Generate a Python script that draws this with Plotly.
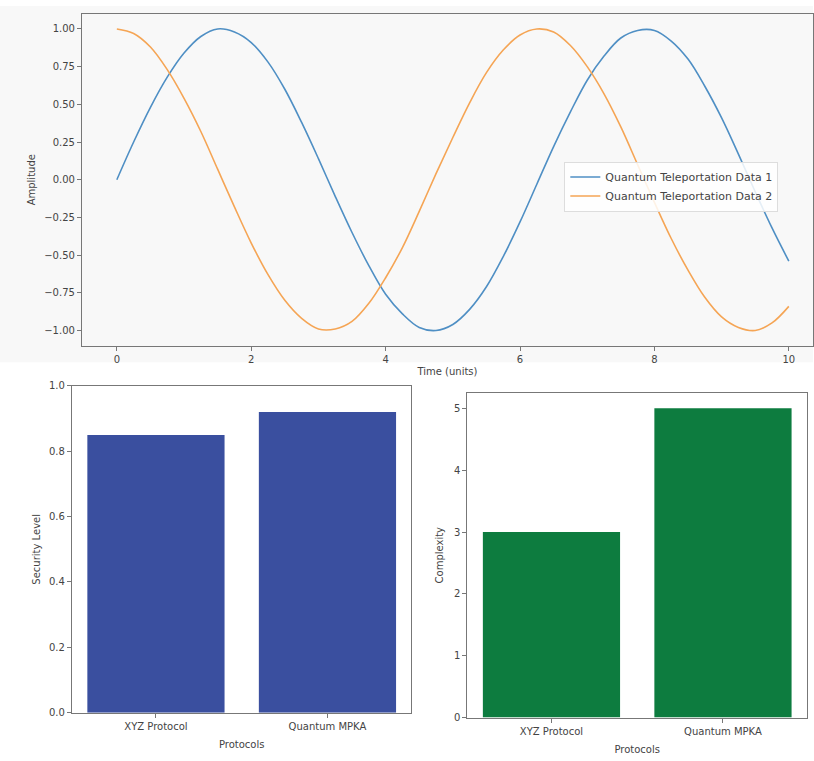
import plotly.graph_objects as go

# ---- data ----
time_units = [0, 0.25, 0.5, 0.75, 1.0, 1.25, 1.5, 1.75, 2.0, 2.25, 2.5, 2.75, 3.0, 3.25, 3.5, 3.75,
              4.0, 4.25, 4.5, 4.75, 5.0, 5.25, 5.5, 5.75, 6.0, 6.25, 6.5, 6.75, 7.0, 7.25, 7.5, 7.75,
              8.0, 8.25, 8.5, 8.75, 9.0, 9.25, 9.5, 9.75, 10.0]
data1 = [0.00, 0.25, 0.48, 0.68, 0.84, 0.95, 1.00, 0.98, 0.91, 0.78, 0.60, 0.38, 0.14, -0.11, -0.35, -0.57,
         -0.76, -0.89, -0.98, -1.00, -0.96, -0.86, -0.71, -0.51, -0.28, -0.03, 0.22, 0.45, 0.66, 0.82, 0.94, 0.99,
         0.99, 0.92, 0.80, 0.62, 0.41, 0.17, -0.08, -0.32, -0.54]
data2 = [1.00, 0.97, 0.88, 0.73, 0.54, 0.32, 0.07, -0.18, -0.42, -0.63, -0.80, -0.92, -0.99, -0.99, -0.94, -0.82,
         -0.65, -0.45, -0.21, 0.04, 0.28, 0.51, 0.71, 0.86, 0.96, 1.00, 0.98, 0.89, 0.75, 0.57, 0.35, 0.10,
         -0.15, -0.39, -0.60, -0.78, -0.91, -0.98, -1.00, -0.95, -0.84]
series_names = ["Quantum Teleportation Data 1", "Quantum Teleportation Data 2"]

protocols = ["XYZ Protocol", "Quantum MPKA"]
security_level = [0.85, 0.92]
complexity = [3, 5]

W, H = 814, 761
def xd(a, b):
    return [a / W, b / W]
def yd(top, bottom):
    return [1 - bottom / H, 1 - top / H]

font = "DejaVu Sans, sans-serif"
axis_common = dict(showline=True, linecolor="#777", linewidth=1, mirror=True,
                   ticks="outside", ticklen=4, tickcolor="#777", showgrid=False, zeroline=False,
                   tickfont=dict(size=10, color="#444"))

fig = go.Figure()
fig.add_trace(go.Scatter(x=time_units, y=data1, name=series_names[0], mode="lines",
                         line=dict(color="#4f8fc4", width=1.6, shape="spline", smoothing=1.0),
                         xaxis="x", yaxis="y"))
fig.add_trace(go.Scatter(x=time_units, y=data2, name=series_names[1], mode="lines",
                         line=dict(color="#f5a555", width=1.6, shape="spline", smoothing=1.0),
                         xaxis="x", yaxis="y"))
fig.add_trace(go.Bar(x=protocols, y=security_level, marker=dict(color="#3a4f9f", line_width=0),
                     width=0.8, showlegend=False, xaxis="x2", yaxis="y2"))
fig.add_trace(go.Bar(x=protocols, y=complexity, marker=dict(color="#0d7c3f", line_width=0),
                     width=0.8, showlegend=False, xaxis="x3", yaxis="y3"))

fig.update_layout(
    width=W, height=H, margin=dict(l=0, r=0, t=0, b=0),
    paper_bgcolor="white", plot_bgcolor="white",
    font=dict(family=font, color="#444"),
    xaxis=dict(domain=xd(82, 814), range=[-0.52, 10.36], tickvals=[0, 2, 4, 6, 8, 10],
               anchor="y", title=dict(text="Time (units)", font=dict(size=10), standoff=4), **axis_common),
    yaxis=dict(domain=yd(8, 345), range=[-1.1, 1.1],
               tickvals=[-1, -0.75, -0.5, -0.25, 0, 0.25, 0.5, 0.75, 1.0],
               ticktext=["\u22121.00", "\u22120.75", "\u22120.50", "\u22120.25", "0.00", "0.25", "0.50", "0.75", "1.00"],
               anchor="x", title=dict(text="Amplitude", font=dict(size=10), standoff=6), **axis_common),
    xaxis2=dict(domain=xd(72, 412), range=[-0.49, 1.49], anchor="y2", tickangle=0,
                title=dict(text="Protocols", font=dict(size=10), standoff=10), **axis_common),
    yaxis2=dict(domain=yd(386, 718), range=[0, 1.0], tickvals=[0, 0.2, 0.4, 0.6, 0.8, 1.0],
                ticktext=["0.0", "0.2", "0.4", "0.6", "0.8", "1.0"], anchor="x2",
                title=dict(text="Security Level", font=dict(size=10), standoff=6), **axis_common),
    xaxis3=dict(domain=xd(468, 808), range=[-0.49, 1.49], anchor="y3", tickangle=0,
                title=dict(text="Protocols", font=dict(size=10), standoff=10), **axis_common),
    yaxis3=dict(domain=yd(393, 723), range=[0, 5.25], tickvals=[0, 1, 2, 3, 4, 5], anchor="x3",
                title=dict(text="Complexity", font=dict(size=10), standoff=8), **axis_common),
    legend=dict(x=565 / W, y=1 - 158 / H, xanchor="left", yanchor="top",
                bgcolor="rgba(255,255,255,0.85)", bordercolor="#dddddd", borderwidth=1,
                font=dict(size=11, color="#444"), tracegroupgap=0, itemwidth=30),
)
fig.add_shape(type="rect", xref="paper", yref="paper", x0=0, x1=1, y0=yd(0, 362)[0], y1=1,
              fillcolor="#f8f8f8", line_width=0, layer="below")

fig.write_html("out.html")
